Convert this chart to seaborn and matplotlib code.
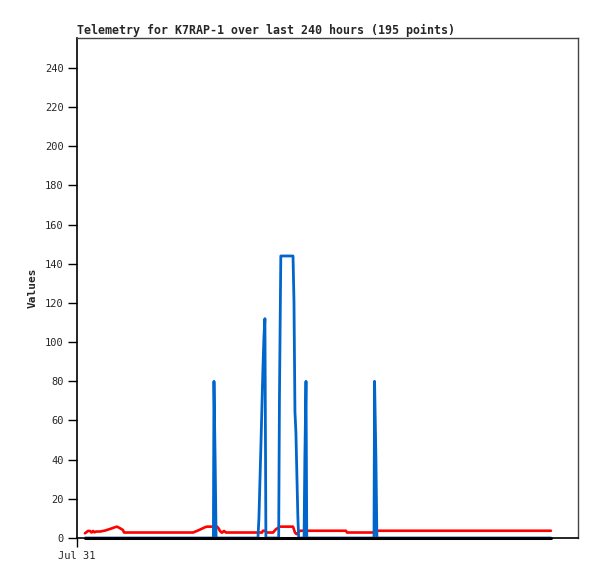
import seaborn as sns
import matplotlib.pyplot as plt
import pandas as pd

# hours since Jul 31 00:00
red_hours = [4.1, 5.7, 6.7, 7.5, 8.3, 9.0, 9.8, 11.9, 14.5, 17.0, 19.6, 20.6, 22.2, 23.7, 24.3,
             59.9, 61.9, 63.5, 66.1, 67.1, 72.3, 73.0, 73.8, 74.8, 75.9, 76.9,
             95.5, 96.0, 97.0, 98.1, 101.2, 102.7, 104.8, 111.5, 112.5, 113.3, 114.1, 115.1,
             138.8, 139.4, 152.8, 153.8, 244.6]
red_values = [2.4, 3.6, 3.6, 2.8, 3.6, 2.9, 3.3, 3.3, 3.8, 4.6, 5.5, 5.8, 5.0, 4.1, 2.8,
              2.8, 3.6, 4.3, 5.5, 5.8, 5.8, 5.0, 3.6, 2.7, 3.6, 2.8,
              2.8, 3.7, 3.7, 2.8, 2.8, 4.5, 5.8, 5.8, 2.8, 2.0, 2.8, 3.7,
              3.7, 2.8, 2.8, 3.7, 3.7]

blue_hours = [4.1, 70.4, 70.7, 71.3, 71.8,
              93.4, 93.9, 94.4, 94.9, 95.4, 95.9, 96.5, 97.0, 97.5,
              104.1, 104.5, 105.2, 111.5, 112.0, 112.5, 113.0, 113.5, 114.0, 114.4,
              117.2, 117.6, 118.2, 118.6,
              153.3, 153.6, 154.3, 154.8, 244.6]
blue_values = [0, 0, 80, 40, 0,
               0, 10, 28, 46, 65, 84, 103, 112, 0,
               0, 72, 144, 144, 120.7, 64.5, 53.8, 32, 10.8, 0,
               0, 40, 80, 0,
               0, 80, 40, 0, 0]

black_hours = [4.1, 244.6]
black_values = [0, 0]

x_ticks = [0]
x_tick_labels = ["Jul 31"]
y_ticks = list(range(0, 241, 20))

red_df = pd.DataFrame({"hours": red_hours, "value": red_values})
blue_df = pd.DataFrame({"hours": blue_hours, "value": blue_values})
black_df = pd.DataFrame({"hours": black_hours, "value": black_values})

sns.set_style("white")
plt.rcParams["font.family"] = ["DejaVu Sans Mono"]

fig = plt.figure(figsize=(5.97, 5.79), dpi=100)
ax = fig.add_axes([77 / 597, 41 / 579, 501 / 597, 500 / 579])

sns.lineplot(data=red_df, x="hours", y="value", color="#ff0000", linewidth=1.9,
             ax=ax, estimator=None, sort=False, zorder=2)
sns.lineplot(data=blue_df, x="hours", y="value", color="#0066cc", linewidth=2.0,
             ax=ax, estimator=None, sort=False, zorder=3)
sns.lineplot(data=black_df, x="hours", y="value", color="#000000", linewidth=2.2,
             ax=ax, estimator=None, sort=False, zorder=5, clip_on=False)

ax.set_xlim(0, 258.6)
ax.set_ylim(0, 255.3)
ax.set_xticks(x_ticks)
ax.set_xticklabels(x_tick_labels)
ax.set_yticks(y_ticks)
ax.tick_params(axis="both", direction="out", length=6.5, width=1, color="black",
               labelsize=7.5, pad=3, left=True, bottom=True)

for side in ["left", "bottom"]:
    ax.spines[side].set_color("black")
    ax.spines[side].set_linewidth(1.2)
for side in ["top", "right"]:
    ax.spines[side].set_color("#444444")
    ax.spines[side].set_linewidth(1.0)

ax.set_xlabel("")
ax.set_ylabel("Values", fontsize=8, fontweight="bold", labelpad=5)
ax.set_title("Telemetry for K7RAP-1 over last 240 hours (195 points)",
             loc="left", fontsize=8.35, fontweight="bold", pad=3)

plt.savefig("out.png", dpi=100)
plt.close()
